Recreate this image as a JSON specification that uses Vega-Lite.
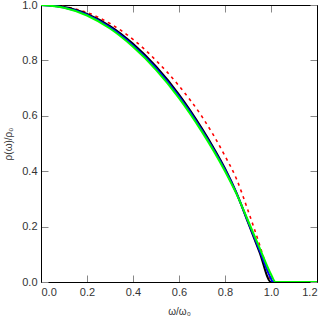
{
  "$schema": "https://vega.github.io/schema/vega-lite/v6.json",
  "autosize": "none",
  "padding": {"left": 41, "top": 5, "right": 10, "bottom": 37},
  "width": 276,
  "height": 277,
  "config": {
    "view": {"stroke": "black", "strokeWidth": 1},
    "axis": {
      "domainColor": "black",
      "tickColor": "#888888",
      "tickSize": -7,
      "labelPadding": 11,
      "grid": false,
      "labelFont": "Liberation Sans",
      "labelFontSize": 11,
      "labelColor": "#333333",
      "titleFont": "Liberation Sans",
      "titleFontSize": 10,
      "titleFontWeight": "normal",
      "titleColor": "#333333"
    }
  },
  "datasets": {
    "red": [
      {"w": 0.0, "r": 1.0}, {"w": 0.1, "r": 0.994}, {"w": 0.2, "r": 0.973}, {"w": 0.3, "r": 0.933},
      {"w": 0.4, "r": 0.876}, {"w": 0.5, "r": 0.8}, {"w": 0.6, "r": 0.708}, {"w": 0.7, "r": 0.597},
      {"w": 0.75, "r": 0.53}, {"w": 0.8, "r": 0.455}, {"w": 0.85, "r": 0.372}, {"w": 0.9, "r": 0.258},
      {"w": 0.95, "r": 0.135}, {"w": 0.98, "r": 0.055}, {"w": 1.0, "r": 0.0}
    ],
    "black": [
      {"w": 0.0, "r": 1.0}, {"w": 0.1, "r": 0.993}, {"w": 0.2, "r": 0.968}, {"w": 0.3, "r": 0.924},
      {"w": 0.4, "r": 0.86}, {"w": 0.5, "r": 0.778}, {"w": 0.6, "r": 0.677}, {"w": 0.7, "r": 0.554},
      {"w": 0.75, "r": 0.485}, {"w": 0.8, "r": 0.41}, {"w": 0.85, "r": 0.322}, {"w": 0.9, "r": 0.215},
      {"w": 0.95, "r": 0.108}, {"w": 1.0, "r": 0.0}, {"w": 1.2, "r": 0.0}
    ],
    "blue": [
      {"w": 0.0, "r": 1.0}, {"w": 0.1, "r": 0.991}, {"w": 0.2, "r": 0.965}, {"w": 0.3, "r": 0.919},
      {"w": 0.4, "r": 0.854}, {"w": 0.5, "r": 0.772}, {"w": 0.6, "r": 0.67}, {"w": 0.7, "r": 0.548},
      {"w": 0.75, "r": 0.479}, {"w": 0.8, "r": 0.405}, {"w": 0.85, "r": 0.32}, {"w": 0.9, "r": 0.218},
      {"w": 0.95, "r": 0.115}, {"w": 1.0, "r": 0.012}, {"w": 1.008, "r": 0.0}, {"w": 1.2, "r": 0.0}
    ],
    "green": [
      {"w": 0.0, "r": 1.0}, {"w": 0.1, "r": 0.99}, {"w": 0.2, "r": 0.962}, {"w": 0.3, "r": 0.915},
      {"w": 0.4, "r": 0.849}, {"w": 0.5, "r": 0.766}, {"w": 0.6, "r": 0.664}, {"w": 0.7, "r": 0.542},
      {"w": 0.75, "r": 0.474}, {"w": 0.8, "r": 0.4}, {"w": 0.85, "r": 0.318}, {"w": 0.9, "r": 0.222},
      {"w": 0.95, "r": 0.124}, {"w": 1.0, "r": 0.028}, {"w": 1.02, "r": 0.0}, {"w": 1.2, "r": 0.0}
    ]
  },
  "layer": [
    {
      "data": {"name": "red"},
      "mark": {"type": "line", "color": "#ff0000", "strokeWidth": 1.6, "strokeDash": [3, 4], "interpolate": "monotone", "clip": true},
      "encoding": {
        "x": {"field": "w", "type": "quantitative", "scale": {"domain": [0, 1.2], "nice": false},
              "axis": {"values": [0, 0.2, 0.4, 0.6, 0.8, 1.0, 1.2], "format": ".1f", "title": "ω/ω₀", "titlePadding": 9}},
        "y": {"field": "r", "type": "quantitative", "scale": {"domain": [0, 1], "nice": false},
              "axis": {"values": [0, 0.2, 0.4, 0.6, 0.8, 1.0], "format": ".1f", "title": "ρ(ω)/ρ₀", "titlePadding": 8}}
      }
    },
    {
      "data": {"name": "black"},
      "mark": {"type": "line", "color": "#000000", "strokeWidth": 2, "interpolate": "monotone", "clip": true},
      "encoding": {
        "x": {"field": "w", "type": "quantitative", "scale": {"domain": [0, 1.2], "nice": false},
              "axis": {"orient": "top", "values": [0, 0.2, 0.4, 0.6, 0.8, 1.0, 1.2], "labels": false, "title": null}},
        "y": {"field": "r", "type": "quantitative", "scale": {"domain": [0, 1], "nice": false},
              "axis": {"orient": "right", "values": [0, 0.2, 0.4, 0.6, 0.8, 1.0], "labels": false, "title": null}}
      }
    },
    {
      "data": {"name": "blue"},
      "mark": {"type": "line", "color": "#0000ff", "strokeWidth": 2, "interpolate": "monotone", "clip": true},
      "encoding": {
        "x": {"field": "w", "type": "quantitative", "axis": null},
        "y": {"field": "r", "type": "quantitative", "axis": null}
      }
    },
    {
      "data": {"name": "green"},
      "mark": {"type": "line", "color": "#00ff00", "strokeWidth": 2, "interpolate": "monotone", "clip": true},
      "encoding": {
        "x": {"field": "w", "type": "quantitative", "axis": null},
        "y": {"field": "r", "type": "quantitative", "axis": null}
      }
    }
  ],
  "resolve": {"axis": {"x": "independent", "y": "independent"}}
}
